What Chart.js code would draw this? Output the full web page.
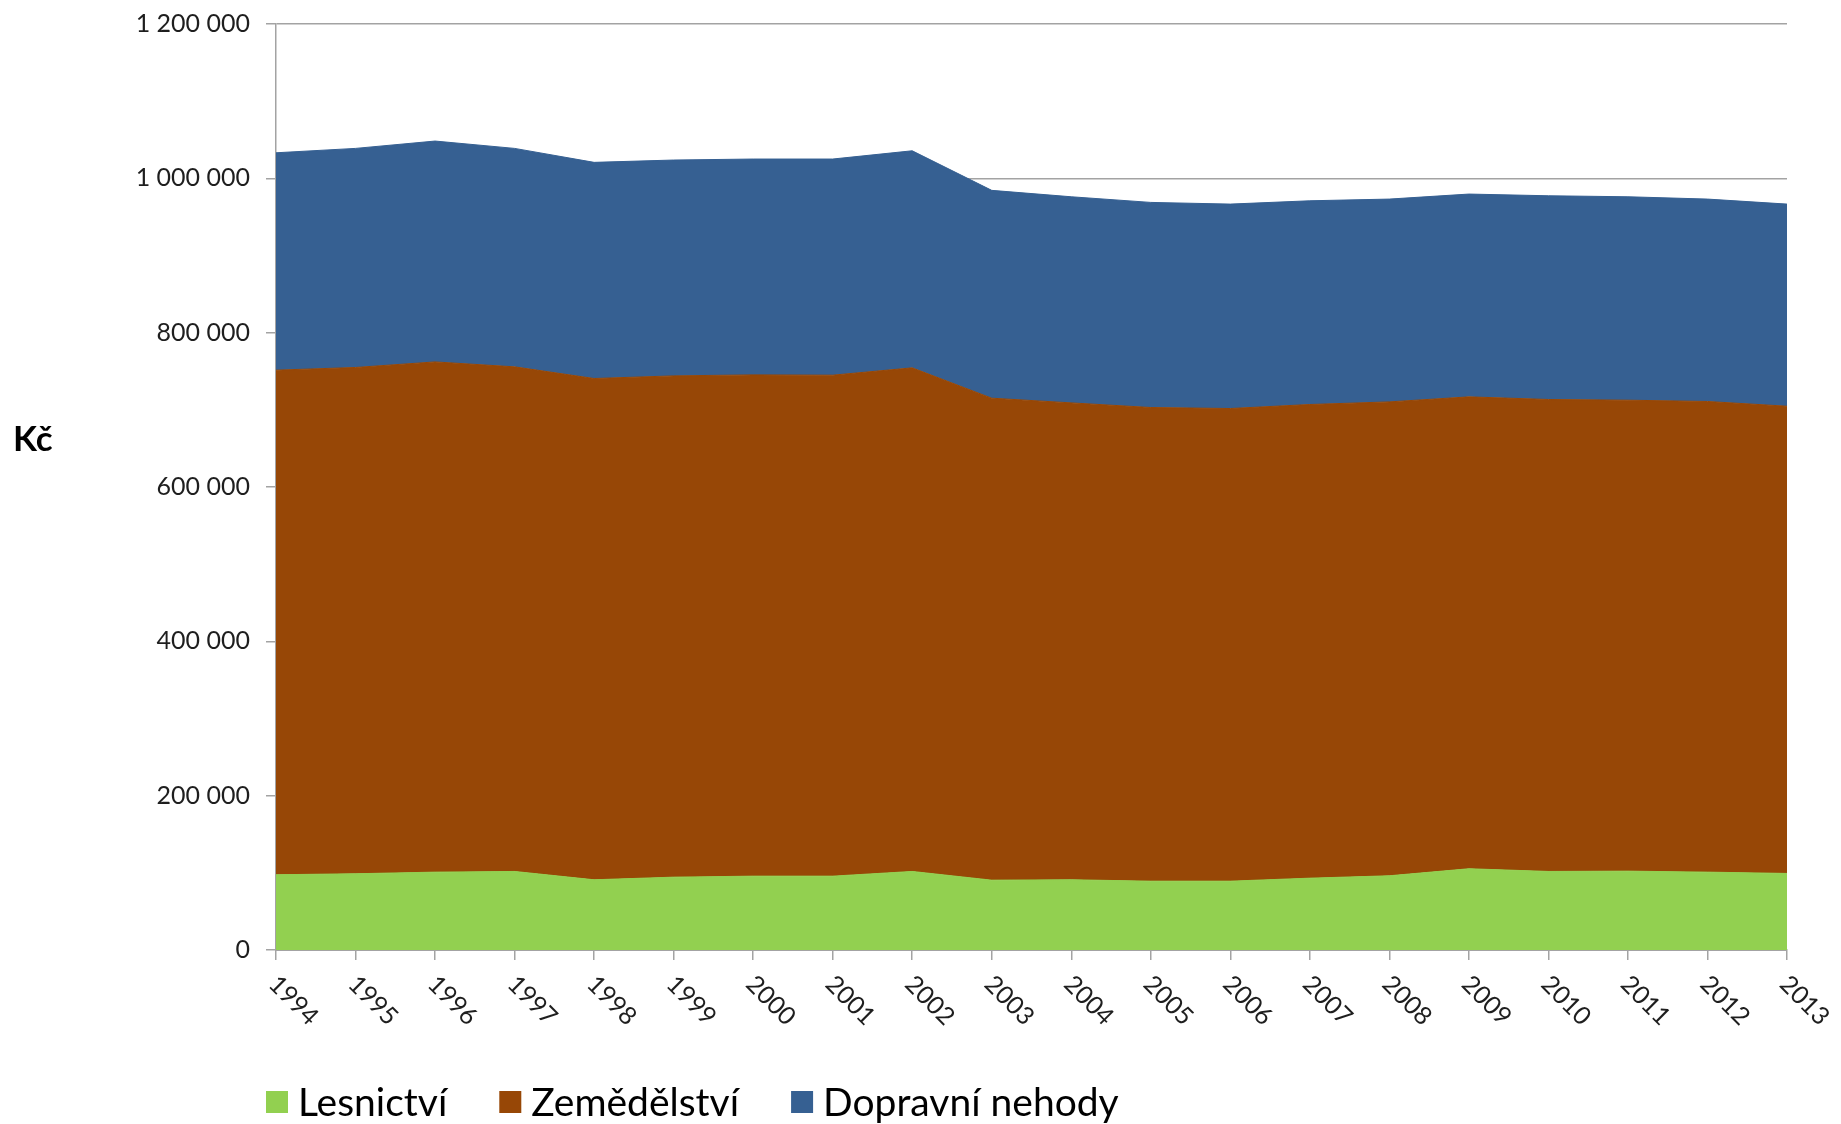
<!DOCTYPE html>
<html lang="cs">
<head>
<meta charset="utf-8">
<title>Škody zvěří</title>
<script src="https://cdn.jsdelivr.net/npm/chart.js@4.4.0/dist/chart.umd.min.js"></script>
<style>
  body { margin: 0; background: #fff; }
  #wrap { width: 1841px; height: 1124px; }
</style>
</head>
<body>
<div id="wrap"><canvas id="graf" width="1841" height="1124"></canvas></div>
<script>
const roky = ['1994', '1995', '1996', '1997', '1998', '1999', '2000', '2001', '2002', '2003',
  '2004', '2005', '2006', '2007', '2008', '2009', '2010', '2011', '2012', '2013'];

const lesnictvi = [97500, 98800, 100900, 101800, 91000, 94400, 95700, 95700, 101800, 90500,
  91000, 89200, 89200, 93100, 96200, 105300, 101800, 102200, 100900, 99200];

const zemedelstvi = [653900, 656100, 661200, 653900, 649600, 649600, 649600, 649200, 652600, 624600,
  618000, 613800, 612500, 613800, 614100, 611500, 611600, 610300, 609900, 605500];

const dopravniNehody = [281700, 283900, 286200, 283100, 280100, 279700, 279700, 280100, 281300, 269300,
  267100, 265800, 264900, 264000, 262800, 262800, 264000, 263600, 262300, 261900];

const osaY = { min: 0, max: 1200000, krok: 200000 };

const pismo = 'Lato, "Open Sans", sans-serif';
const seda = '#a3a3a3';

function mezery(v) {
  return String(v).replace(/\B(?=(\d{3})+(?!\d))/g, ' ');
}

// popisky roků šikmo dolů doprava, titulek osy a legenda vespod
const doplnky = {
  id: 'doplnky',
  afterDraw(chart) {
    const ctx = chart.ctx;
    const sx = chart.scales.x;

    ctx.save();
    ctx.fillStyle = '#1e1e1e';
    ctx.font = '25px ' + pismo;
    ctx.textAlign = 'left';
    ctx.textBaseline = 'middle';
    chart.data.labels.forEach((rok, i) => {
      const x = sx.getPixelForTick(i);
      ctx.save();
      ctx.translate(x - 3, sx.top + 30);
      ctx.rotate(Math.PI / 4);
      ctx.fillText(rok, 0, 0);
      ctx.restore();
    });

    ctx.font = 'bold 35px ' + pismo;
    ctx.textBaseline = 'alphabetic';
    ctx.fillStyle = '#000';
    ctx.fillText('Kč', 13, 451);

    // legenda
    ctx.font = '39px ' + pismo;
    ctx.textBaseline = 'middle';
    let x = 266;
    const y = 1102;
    chart.data.datasets.forEach(ds => {
      ctx.fillStyle = ds.backgroundColor;
      ctx.fillRect(x, y - 11, 22, 22);
      x += 32;
      ctx.fillStyle = '#000';
      ctx.fillText(ds.label, x, y + 1);
      x += ctx.measureText(ds.label).width + 52;
    });
    ctx.restore();
  }
};

const rada = (label, data, barva, fill) => ({
  label, data, fill,
  backgroundColor: barva,
  borderColor: barva,
  borderWidth: 1,
  pointRadius: 0,
  tension: 0
});

new Chart(document.getElementById('graf'), {
  type: 'line',
  data: {
    labels: roky,
    datasets: [
      rada('Lesnictví', lesnictvi, '#92D050', 'origin'),
      rada('Zemědělství', zemedelstvi, '#974706', '-1'),
      rada('Dopravní nehody', dopravniNehody, '#366092', '-1')
    ]
  },
  options: {
    responsive: false,
    animation: false,
    layout: { padding: { top: 24, right: 54, bottom: 0, left: 0 } },
    plugins: {
      legend: { display: false },
      tooltip: { enabled: false }
    },
    scales: {
      x: {
        offset: false,
        afterFit(s) { s.height = 174; },
        border: { color: seda, width: 2 },
        grid: { drawOnChartArea: false, drawTicks: true, tickLength: 10, color: seda, lineWidth: 1.5 },
        ticks: { display: false, autoSkip: false }
      },
      y: {
        stacked: true,
        min: osaY.min,
        max: osaY.max,
        afterFit(s) {
          s.width = 276;
          s.paddingTop = 0;
          s.paddingBottom = 0;
        },
        border: { color: seda, width: 1.5 },
        grid: { color: seda, lineWidth: 1.5, tickLength: 10 },
        ticks: {
          stepSize: osaY.krok,
          padding: 16,
          color: '#1e1e1e',
          font: { family: pismo, size: 25 },
          callback: v => mezery(v)
        }
      }
    }
  },
  plugins: [doplnky]
});
</script>
</body>
</html>
